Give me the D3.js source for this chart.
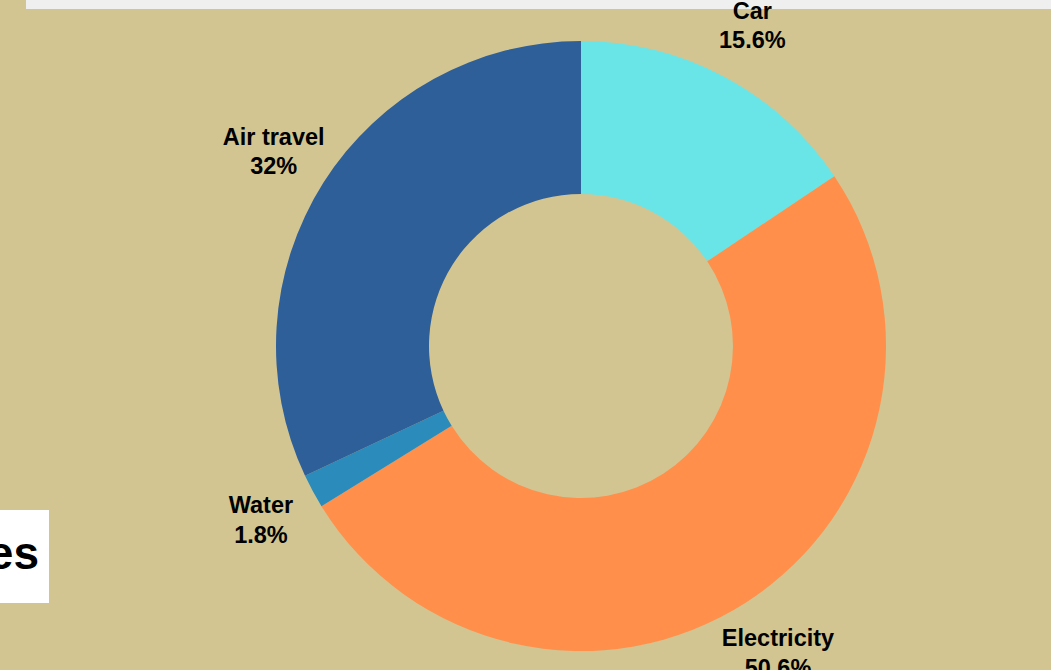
<!DOCTYPE html>
<html>
<head>
<meta charset="utf-8">
<script src="https://cdn.jsdelivr.net/npm/d3@7"></script>
<style>
  html, body { margin: 0; padding: 0; background: #d2c591; overflow: hidden; }
  svg { display: block; }
</style>
</head>
<body>
<svg id="chart" width="1051" height="670"></svg>
<script>
const categories = ["Car", "Electricity", "Water", "Air travel"];
const values = [15.6, 50.6, 1.8, 32];
const valueLabels = ["15.6%", "50.6%", "1.8%", "32%"];
const colors = ["#69e5e8", "#ff8f4b", "#2b8bbb", "#2e5f98"];
const legendTitle = ["es"];

const W = 1051, H = 670;
const svg = d3.select("#chart");

svg.append("rect").attr("x", 0).attr("y", 0).attr("width", W).attr("height", H).attr("fill", "#d2c591");

// top header strip (cut off)
svg.append("rect").attr("x", 26).attr("y", 0).attr("width", W - 26).attr("height", 9).attr("fill", "#efefef");

const cx = 581, cy = 346, outerR = 305, innerR = 152;
const g = svg.append("g").attr("transform", `translate(${cx},${cy})`);

const data = categories.map((c, i) => ({ name: c, value: values[i], label: valueLabels[i], color: colors[i] }));
const pie = d3.pie().value(d => d.value).sort(null);
const arc = d3.arc().innerRadius(innerR).outerRadius(outerR);
const labelArc = d3.arc().innerRadius(364).outerRadius(364);

const arcs = pie(data);
g.selectAll("path.slice").data(arcs).join("path")
  .attr("class", "slice")
  .attr("d", arc)
  .attr("fill", d => d.data.color);

const labels = g.selectAll("text.lbl").data(arcs).join("text")
  .attr("class", "lbl")
  .attr("transform", d => `translate(${labelArc.centroid(d)})`)
  .attr("text-anchor", "middle")
  .attr("font-family", "Liberation Sans, Arial, Helvetica, sans-serif")
  .attr("font-weight", "bold")
  .attr("font-size", 23.5)
  .attr("fill", "#000");
labels.append("tspan").attr("x", 0).attr("dy", "-0.25em").text(d => d.data.name);
labels.append("tspan").attr("x", 0).attr("dy", "1.25em").text(d => d.data.label);

// left legend/title box (cut off)
svg.append("rect").attr("x", 0).attr("y", 510).attr("width", 49).attr("height", 93).attr("fill", "#ffffff");
svg.append("text").attr("x", 39).attr("y", 569).attr("text-anchor", "end")
  .attr("font-family", "Liberation Sans, Arial, Helvetica, sans-serif")
  .attr("font-weight", "bold").attr("font-size", 46).attr("fill", "#000")
  .text(legendTitle[0]);
</script>
</body>
</html>
